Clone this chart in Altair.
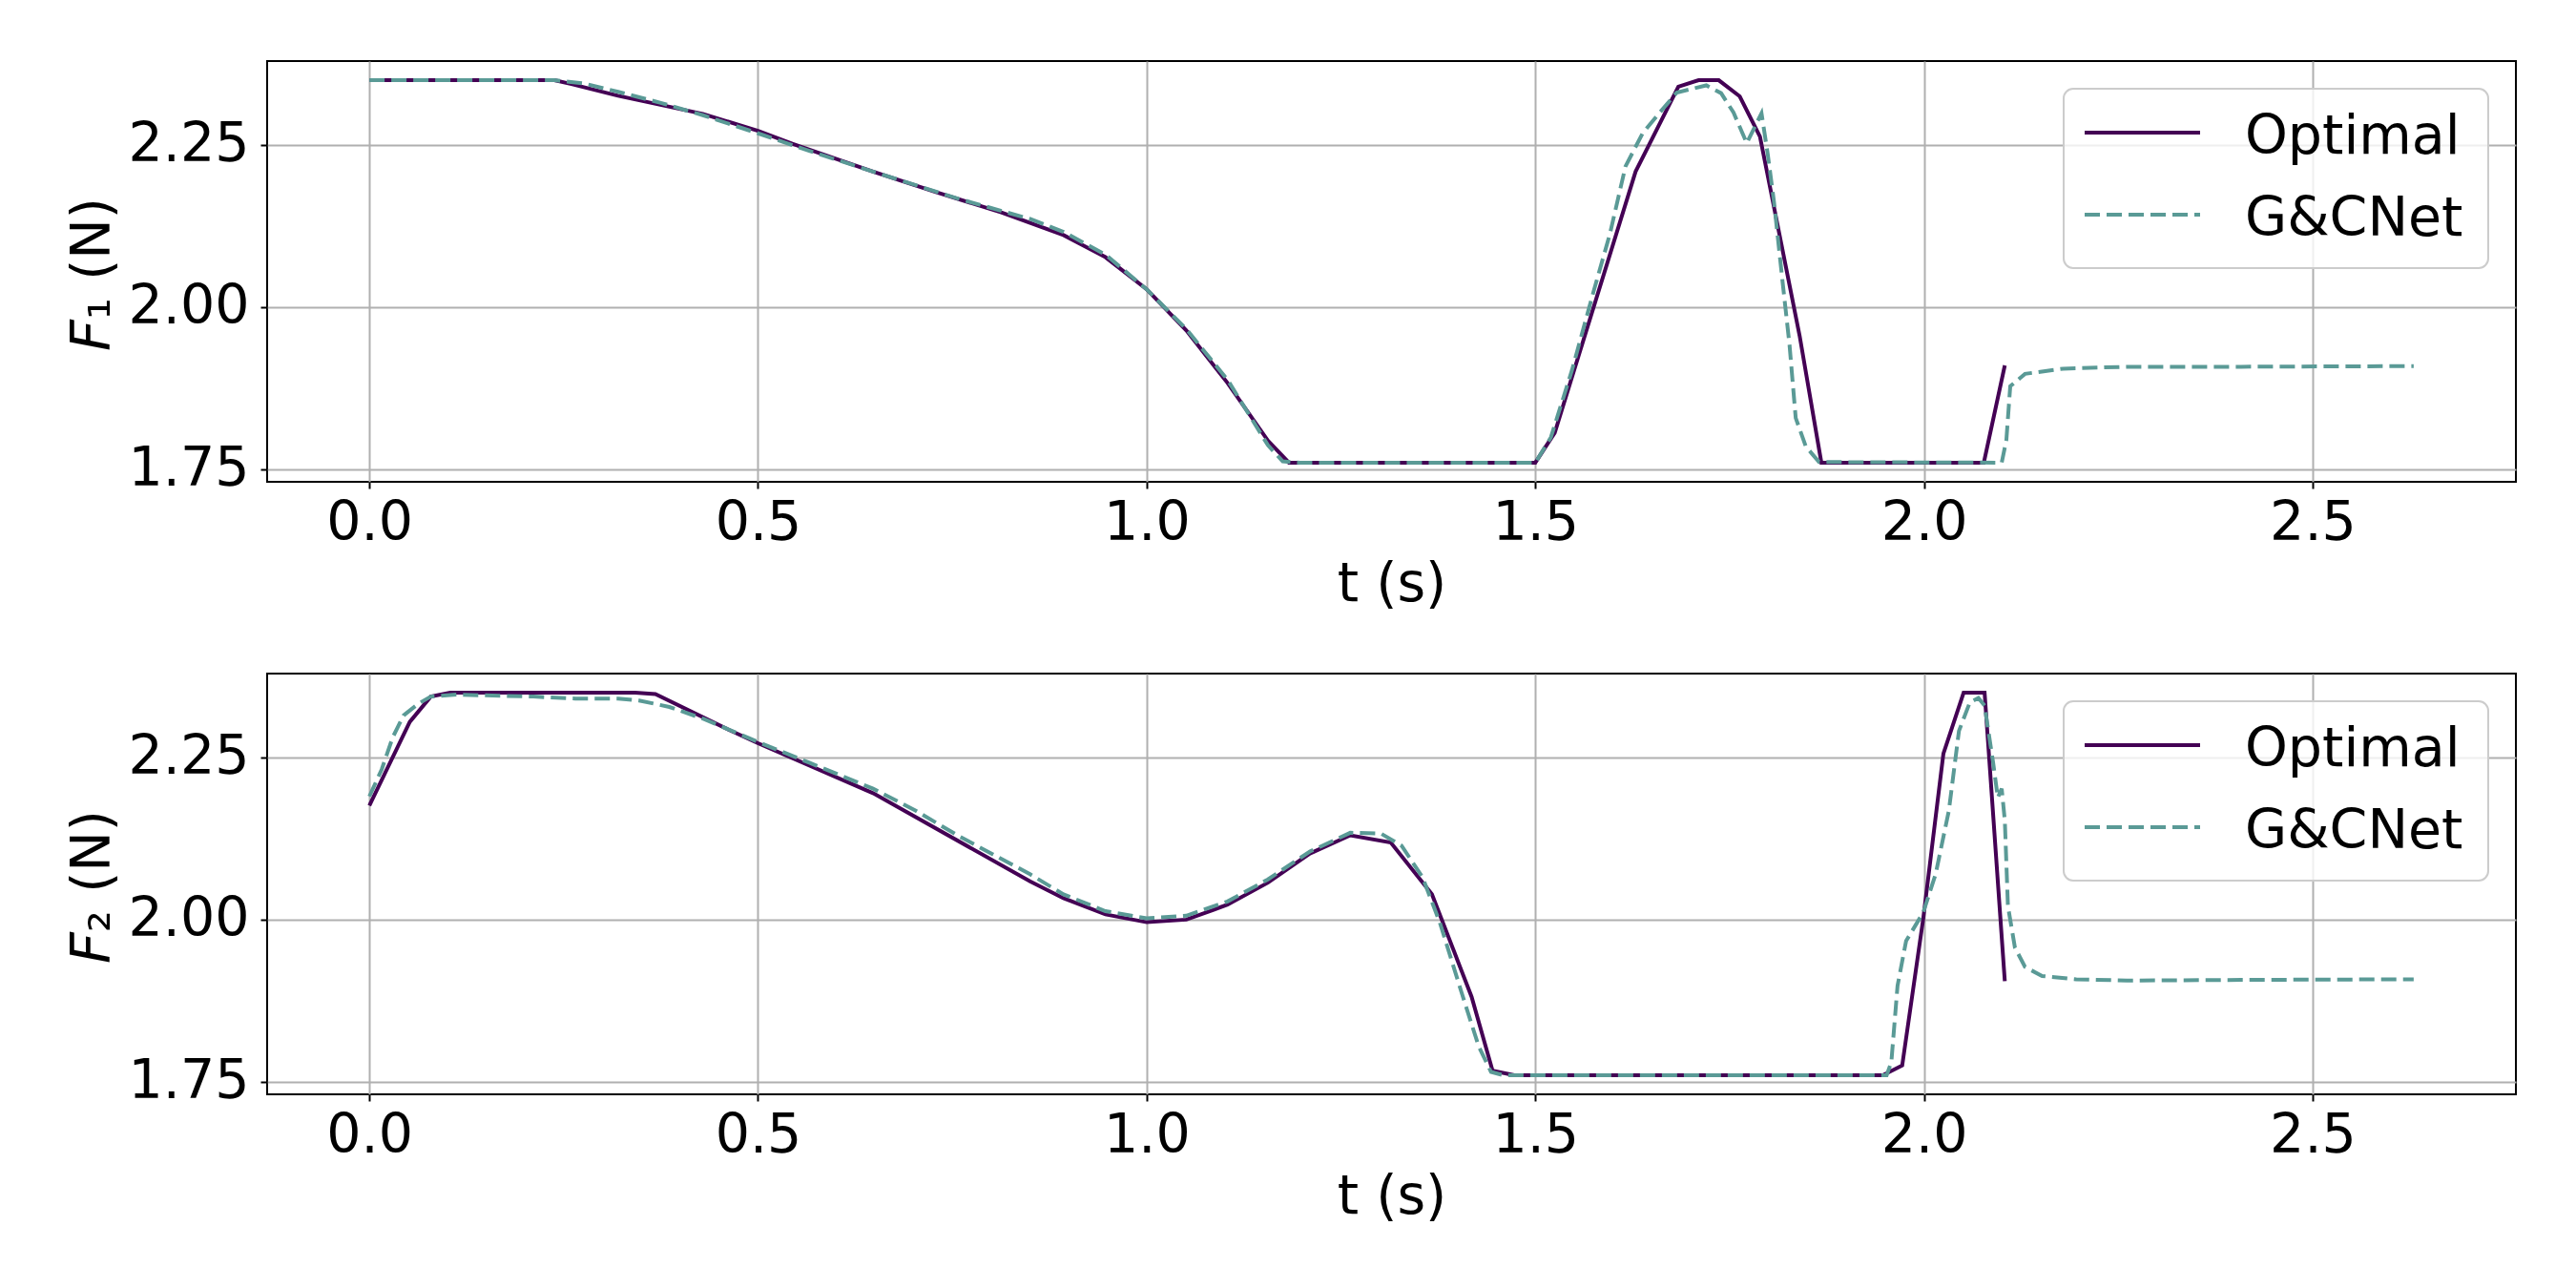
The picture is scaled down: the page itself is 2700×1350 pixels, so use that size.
import altair as alt
import pandas as pd

SERIES = ["Optimal", "G&CNet"]
COLORS = ["#440154", "#5a9a96"]

# ---- F1 panel ----
t_opt_f1 = [0.0, 0.238, 0.260, 0.320, 0.429, 0.5, 0.544, 0.648, 0.730, 0.813, 0.893, 0.947,
            1.0, 1.051, 1.104, 1.156, 1.183, 1.5, 1.525, 1.629, 1.684, 1.710, 1.736, 1.763,
            1.789, 1.840, 1.868, 2.077, 2.104]
v_opt_f1 = [2.35, 2.35, 2.344, 2.326, 2.298, 2.272, 2.252, 2.209, 2.177, 2.146, 2.111, 2.077,
            2.0275, 1.964, 1.883, 1.794, 1.76, 1.76, 1.806, 2.209, 2.340, 2.350, 2.350, 2.325,
            2.263, 1.956, 1.76, 1.76, 1.910]

t_gc_f1 = [0.0, 0.238, 0.276, 0.320, 0.375, 0.429, 0.5, 0.566, 0.648, 0.758, 0.850, 0.893,
           0.947, 1.0, 1.051, 1.104, 1.156, 1.175, 1.197, 1.5, 1.520, 1.547, 1.574, 1.596,
           1.616, 1.638, 1.660, 1.682, 1.720, 1.739, 1.755, 1.772, 1.791, 1.799, 1.807, 1.818,
           1.827, 1.835, 1.848, 1.865, 2.100, 2.106, 2.111, 2.130, 2.179, 2.261, 2.408, 2.63]
v_gc_f1 = [2.35, 2.35, 2.345, 2.332, 2.315, 2.296, 2.268, 2.241, 2.209, 2.167, 2.136, 2.116,
           2.081, 2.0275, 1.966, 1.888, 1.787, 1.762, 1.76, 1.76, 1.799, 1.902, 2.020, 2.113,
           2.217, 2.268, 2.300, 2.331, 2.342, 2.330, 2.300, 2.253, 2.299, 2.236, 2.163, 2.040,
           1.942, 1.829, 1.785, 1.761, 1.76, 1.795, 1.878, 1.897, 1.905, 1.908, 1.908, 1.909]

# ---- F2 panel ----
t_opt_f2 = [0.0, 0.052, 0.079, 0.104, 0.342, 0.368, 0.462, 0.5, 0.648, 0.850, 0.893, 0.947,
            1.0, 1.051, 1.104, 1.156, 1.210, 1.262, 1.314, 1.367, 1.418, 1.445, 1.473, 1.947,
            1.972, 1.999, 2.025, 2.051, 2.078, 2.104]
v_opt_f2 = [2.176, 2.305, 2.344, 2.35, 2.35, 2.348, 2.293, 2.272, 2.195, 2.059, 2.033, 2.008,
            1.996, 2.000, 2.023, 2.057, 2.102, 2.130, 2.119, 2.039, 1.881, 1.767, 1.76, 1.76,
            1.775, 2.001, 2.256, 2.35, 2.35, 1.905]

t_gc_f2 = [0.0, 0.016, 0.030, 0.044, 0.063, 0.079, 0.112, 0.211, 0.265, 0.320, 0.347, 0.386,
           0.429, 0.5, 0.566, 0.648, 0.703, 0.758, 0.850, 0.893, 0.947, 1.0, 1.051, 1.104,
           1.156, 1.210, 1.262, 1.301, 1.328, 1.355, 1.377, 1.405, 1.427, 1.443, 1.459, 1.952,
           1.958, 1.966, 1.977, 1.999, 2.015, 2.032, 2.045, 2.059, 2.070, 2.078, 2.089, 2.095,
           2.100, 2.104, 2.108, 2.117, 2.130, 2.152, 2.196, 2.261, 2.408, 2.63]
v_gc_f2 = [2.190, 2.232, 2.281, 2.315, 2.333, 2.344, 2.347, 2.344, 2.341, 2.341, 2.338, 2.328,
           2.310, 2.274, 2.242, 2.202, 2.168, 2.129, 2.070, 2.039, 2.013, 2.002, 2.006, 2.028,
           2.062, 2.105, 2.134, 2.133, 2.114, 2.065, 1.996, 1.888, 1.805, 1.765, 1.76, 1.76,
           1.780, 1.898, 1.967, 2.011, 2.070, 2.168, 2.291, 2.335, 2.342, 2.330, 2.242, 2.188,
           2.202, 2.153, 2.021, 1.957, 1.927, 1.913, 1.908, 1.906, 1.907, 1.908]

X_TICKS = [0.0, 0.5, 1.0, 1.5, 2.0, 2.5]
Y_TICKS = [1.75, 2.00, 2.25]
XDOM = [-0.1315, 2.7615]
YDOM = [1.7305, 2.3795]
W, H = 2357, 441
FS = 57
FONT = "DejaVu Sans"


def panel(t_opt, v_opt, t_gc, v_gc, sub):
    d_opt = pd.DataFrame({"t": t_opt, "F": v_opt, "series": SERIES[0]})
    d_gc = pd.DataFrame({"t": t_gc, "F": v_gc, "series": SERIES[1]})
    x = alt.X("t:Q", scale=alt.Scale(domain=XDOM, nice=False, zero=False),
              axis=alt.Axis(values=X_TICKS, format=".1f", title="t (s)"))
    y = alt.Y("F:Q", scale=alt.Scale(domain=YDOM, nice=False, zero=False),
              axis=alt.Axis(values=Y_TICKS, format=".2f", title=None))
    l_opt = alt.Chart(d_opt).mark_line(color=COLORS[0], strokeWidth=4, clip=True).encode(x=x, y=y)
    l_gc = alt.Chart(d_gc).mark_line(color=COLORS[1], strokeWidth=4, strokeDash=[16, 7],
                                     clip=True).encode(x=x, y=y)

    one = pd.DataFrame({"k": [0]})
    box = alt.Chart(one).mark_rect(fill="white", fillOpacity=0.8, stroke="#cccccc",
                                   strokeWidth=2, cornerRadius=10).encode(
        x=alt.value(1883), x2=alt.value(2328), y=alt.value(29), y2=alt.value(217))
    sym_opt = alt.Chart(one).mark_rule(color=COLORS[0], strokeWidth=4).encode(
        x=alt.value(1905), x2=alt.value(2026), y=alt.value(75))
    sym_gc = alt.Chart(one).mark_rule(color=COLORS[1], strokeWidth=4, strokeDash=[16, 7]).encode(
        x=alt.value(1905), x2=alt.value(2026), y=alt.value(161))
    lab_opt = alt.Chart(pd.DataFrame({"s": [SERIES[0]]})).mark_text(
        align="left", baseline="alphabetic", fontSize=FS, font=FONT, color="black").encode(
        x=alt.value(2073), y=alt.value(97), text="s:N")
    lab_gc = alt.Chart(pd.DataFrame({"s": [SERIES[1]]})).mark_text(
        align="left", baseline="alphabetic", fontSize=FS, font=FONT, color="black").encode(
        x=alt.value(2073), y=alt.value(183), text="s:N")

    # y-axis title: italic F followed by subscript digit and unit
    yt_f = alt.Chart(one).mark_text(angle=270, align="left", baseline="alphabetic", fontSize=FS,
                                    font=FONT, fontStyle="italic", color="black").encode(
        x=alt.value(-165), y=alt.value(304), text=alt.value("F"))
    yt_rest = alt.Chart(one).mark_text(angle=270, align="left", baseline="alphabetic", fontSize=FS,
                                       font=FONT, color="black").encode(
        x=alt.value(-165), y=alt.value(271), text=alt.value(sub + " (N)"))

    return alt.layer(l_opt, l_gc, box, sym_opt, sym_gc, lab_opt, lab_gc, yt_f, yt_rest).properties(
        width=W, height=H)


top = panel(t_opt_f1, v_opt_f1, t_gc_f1, v_gc_f1, "\u2081")
bottom = panel(t_opt_f2, v_opt_f2, t_gc_f2, v_gc_f2, "\u2082")

chart = alt.vconcat(top, bottom, spacing=64).properties(
    padding={"top": 55, "left": 60, "right": 5, "bottom": 5},
    background="white",
).configure_view(stroke="black", strokeWidth=2).configure_axis(
    labelFont=FONT, labelFontSize=FS, labelColor="black",
    titleFont=FONT, titleFontSize=FS, titleFontWeight="normal", titleColor="black",
    tickColor="black", tickWidth=2, tickSize=7,
    gridColor="#b0b0b0", gridWidth=2, domain=False,
).configure_axisX(labelPadding=8, titlePadding=8).configure_axisY(labelPadding=12)

chart.save("out.html", embed_options={"renderer": "svg", "actions": False})
